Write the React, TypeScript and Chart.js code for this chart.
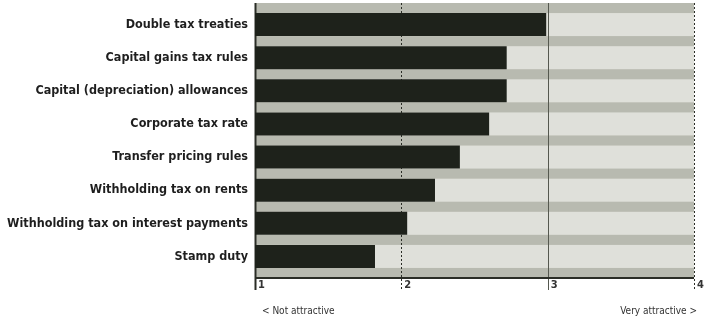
import React, { useEffect, useRef } from "react";
import { Chart, registerables } from "chart.js";

Chart.register(...registerables);

const categories = [
  "Double tax treaties",
  "Capital gains tax rules",
  "Capital (depreciation) allowances",
  "Corporate tax rate",
  "Transfer pricing rules",
  "Withholding tax on rents",
  "Withholding tax on interest payments",
  "Stamp duty",
];
const scores = [2.99, 2.72, 2.72, 2.6, 2.4, 2.23, 2.04, 1.82];
const tickValues = [1, 2, 3, 4];
const lowLabel = "< Not attractive";
const highLabel = "Very attractive >";

const FONT = "'Liberation Sans Narrow', 'DejaVu Sans Condensed', 'Liberation Sans', sans-serif";
const BAR_PCT = 0.695;
const EDGE = 5;

const backgroundPlugin = {
  id: "bgBands",
  beforeDatasetsDraw(chart: any) {
    const { ctx, chartArea, scales } = chart;
    const y = scales.y;
    const x = scales.x;
    const top = chartArea.top - EDGE;
    const bottom = chartArea.bottom + EDGE;
    ctx.save();
    ctx.fillStyle = "#b8bab0";
    ctx.fillRect(chartArea.left, top, chartArea.right - chartArea.left, bottom - top);
    const rowH = (chartArea.bottom - chartArea.top) / categories.length;
    ctx.fillStyle = "#dfe0da";
    categories.forEach((_, i) => {
      const cy = y.getPixelForValue(i);
      const h = rowH * BAR_PCT;
      ctx.fillRect(chartArea.left, cy - h / 2, chartArea.right - chartArea.left, h);
    });
    tickValues.forEach((v) => {
      const px = Math.round(x.getPixelForValue(v)) + 0.5;
      ctx.beginPath();
      if (v === 1) {
        ctx.setLineDash([]);
        ctx.strokeStyle = "#2a2d26";
        ctx.lineWidth = 2;
      } else if (v === 3) {
        ctx.setLineDash([]);
        ctx.strokeStyle = "#55584f";
        ctx.lineWidth = 1;
      } else {
        ctx.setLineDash([2, 2]);
        ctx.strokeStyle = "#2a2d26";
        ctx.lineWidth = 1;
      }
      ctx.moveTo(px, top);
      ctx.lineTo(px, bottom + 12);
      ctx.stroke();
    });
    ctx.restore();
  },
  afterDatasetsDraw(chart: any) {
    const { ctx, chartArea } = chart;
    const bottom = chartArea.bottom + EDGE;
    ctx.save();
    ctx.strokeStyle = "#2a2d26";
    ctx.lineWidth = 2;
    ctx.beginPath();
    ctx.moveTo(chartArea.left, bottom);
    ctx.lineTo(chartArea.right, bottom);
    ctx.stroke();
    ctx.fillStyle = "#333";
    ctx.font = "10px " + FONT;
    ctx.textBaseline = "middle";
    ctx.textAlign = "left";
    ctx.fillText(lowLabel, chartArea.left + 7, bottom + 33);
    ctx.textAlign = "right";
    ctx.fillText(highLabel, chartArea.right + 3, bottom + 33);
    ctx.restore();
  },
};

export default function App() {
  const ref = useRef<HTMLCanvasElement | null>(null);
  useEffect(() => {
    document.body.style.margin = "0";
    const chart = new Chart(ref.current as HTMLCanvasElement, {
      type: "bar",
      data: {
        labels: categories,
        datasets: [
          {
            data: scores,
            backgroundColor: "#1e221b",
            borderWidth: 0,
            barPercentage: BAR_PCT,
            categoryPercentage: 1,
          },
        ],
      },
      options: {
        indexAxis: "y",
        animation: false,
        responsive: false,
        maintainAspectRatio: false,
        layout: { padding: { top: 8, right: 12, bottom: 0, left: 0 } },
        plugins: { legend: { display: false }, tooltip: { enabled: false } },
        scales: {
          x: {
            type: "linear",
            min: 1,
            max: 4,
            afterBuildTicks: (scale: any) => {
              scale.ticks = tickValues.map((v) => ({ value: v }));
            },
            afterFit: (scale: any) => {
              scale.height = 51;
              scale.paddingLeft = 0;
              scale.paddingRight = 0;
            },
            grid: { display: false, drawTicks: false },
            border: { display: false },
            ticks: {
              align: "start",
              labelOffset: 3,
              padding: 6,
              color: "#333",
              font: { family: FONT, size: 11, weight: "bold" },
            },
          },
          y: {
            type: "category",
            afterFit: (scale: any) => {
              scale.width = 255;
              scale.paddingTop = 0;
              scale.paddingBottom = 0;
            },
            grid: { display: false, drawTicks: false },
            border: { display: false },
            ticks: {
              padding: 7,
              color: "#1e1e1e",
              font: { family: FONT, size: 12.5, weight: "bold" },
            },
          },
        },
      },
      plugins: [backgroundPlugin],
    } as any);
    return () => chart.destroy();
  }, []);
  return (
    <div style={{ width: 706, height: 324 }}>
      <canvas ref={ref} width={706} height={324} />
    </div>
  );
}
